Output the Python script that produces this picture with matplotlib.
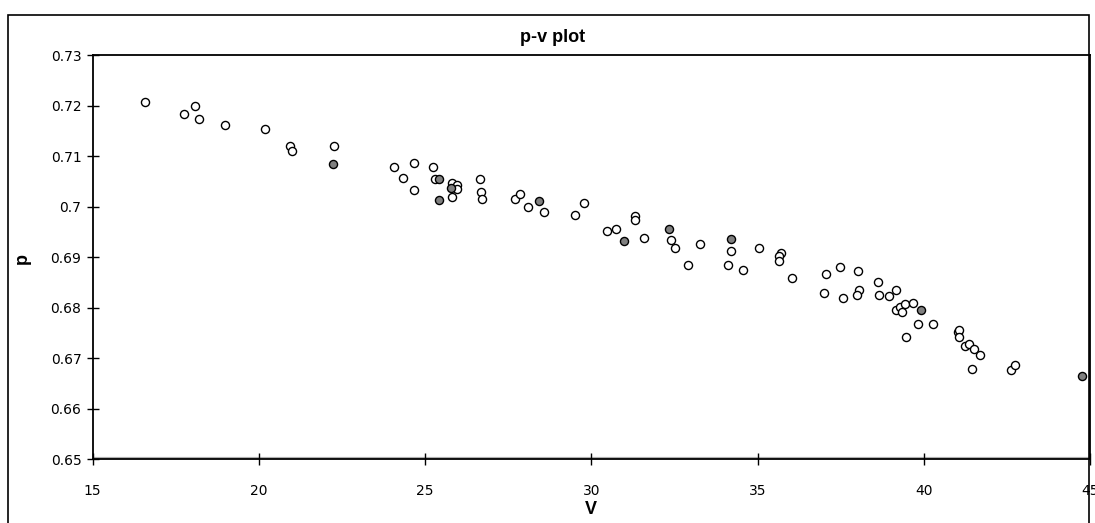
import matplotlib
matplotlib.use("Agg")
import matplotlib.pyplot as plt
from matplotlib.patches import Rectangle

# open (hollow) markers
v_open = [16.58, 17.76, 18.08, 18.21, 18.97, 20.19, 20.95, 21.00, 22.26,
          24.07, 24.34, 24.66, 24.66, 25.24, 25.31, 25.82, 25.95, 25.96, 25.82,
          26.64, 26.68, 26.72, 27.72, 27.85, 28.11, 28.59,
          29.79, 29.51, 31.32, 31.32, 30.46, 30.74, 31.59, 32.40, 32.53, 33.26,
          32.90, 34.20, 34.12, 34.56, 35.06, 35.70, 35.65, 35.64,
          36.05, 37.05, 36.99, 37.49, 37.58, 38.03, 38.04, 37.99, 38.62, 38.66,
          38.94, 39.16, 39.18, 39.29, 39.35, 39.43, 39.69, 39.84, 40.28, 39.48,
          41.02, 41.05, 41.05, 41.24, 41.37, 41.50, 41.68, 41.44, 42.62, 42.74]
p_open = [0.7206, 0.7184, 0.7199, 0.7173, 0.7161, 0.7153, 0.7120, 0.7110, 0.7119,
          0.7078, 0.7057, 0.7086, 0.7033, 0.7078, 0.7054, 0.7047, 0.7043, 0.7035, 0.7018,
          0.7054, 0.7028, 0.7015, 0.7015, 0.7024, 0.7000, 0.6989,
          0.7006, 0.6983, 0.6981, 0.6973, 0.6952, 0.6955, 0.6938, 0.6934, 0.6917, 0.6926,
          0.6884, 0.6911, 0.6884, 0.6875, 0.6917, 0.6907, 0.6901, 0.6893,
          0.6858, 0.6866, 0.6828, 0.6881, 0.6819, 0.6872, 0.6834, 0.6824, 0.6851, 0.6825,
          0.6822, 0.6834, 0.6795, 0.6801, 0.6791, 0.6807, 0.6808, 0.6768, 0.6768, 0.6741,
          0.6752, 0.6755, 0.6741, 0.6723, 0.6727, 0.6717, 0.6706, 0.6679, 0.6676, 0.6687]

# filled (gray) markers
v_fill = [22.23, 25.42, 25.42, 25.77, 28.43, 30.97, 32.35, 34.20, 39.93, 44.76]
p_fill = [0.7084, 0.7054, 0.7012, 0.7036, 0.7010, 0.6932, 0.6955, 0.6935, 0.6795, 0.6664]

x_ticks = [15, 20, 25, 30, 35, 40, 45]
y_ticks = [0.65, 0.66, 0.67, 0.68, 0.69, 0.70, 0.71, 0.72, 0.73]
y_labels = ["0.65", "0.66", "0.67", "0.68", "0.69", "0.7", "0.71", "0.72", "0.73"]

W, H = 1095, 523
fig = plt.figure(figsize=(W / 100, H / 100), dpi=100)
fig.patch.set_facecolor("white")

# outer chart frame
fig.add_artist(Rectangle((8 / W, -0.05), (1089 - 8) / W, 1.05 - 15 / H,
                         transform=fig.transFigure, fill=False,
                         edgecolor="black", linewidth=1.2))

ax = fig.add_axes([92.5 / W, 1 - 459 / H, (1090 - 92.5) / W, (459 - 55) / H])
ax.axhline(0.65, color="#b0b0b0", linewidth=3, zorder=0.5)
ax.scatter(v_open, p_open, s=34, facecolors="white", edgecolors="black",
           linewidths=1.0, zorder=3)
ax.scatter(v_fill, p_fill, s=34, facecolors="#808080", edgecolors="black",
           linewidths=1.0, zorder=3)

ax.set_xlim(15, 45)
ax.set_ylim(0.65, 0.73)
ax.set_xticks(x_ticks)
ax.set_yticks(y_ticks)
ax.set_yticklabels(y_labels)
ax.tick_params(direction="inout", length=8, width=1.0, labelsize=10,
               pad=4, colors="black")
ax.tick_params(axis="x", pad=14)
for lab in ax.get_xticklabels() + ax.get_yticklabels():
    lab.set_fontfamily("DejaVu Sans")
for s in ax.spines.values():
    s.set_linewidth(1.3)
    s.set_color("black")

fig.text(553 / W, 1 - 37 / H, "p-v plot", ha="center", va="center",
         fontsize=13, fontweight="bold", family="Liberation Sans")
fig.text(591 / W, 1 - 510 / H, "V", ha="center", va="center",
         fontsize=13, fontweight="bold", family="Liberation Sans")
fig.text(22 / W, 1 - 258 / H, "p", ha="center", va="center", rotation=90,
         fontsize=13, fontweight="bold", family="Liberation Sans")

fig.savefig("out.png", dpi=100)
